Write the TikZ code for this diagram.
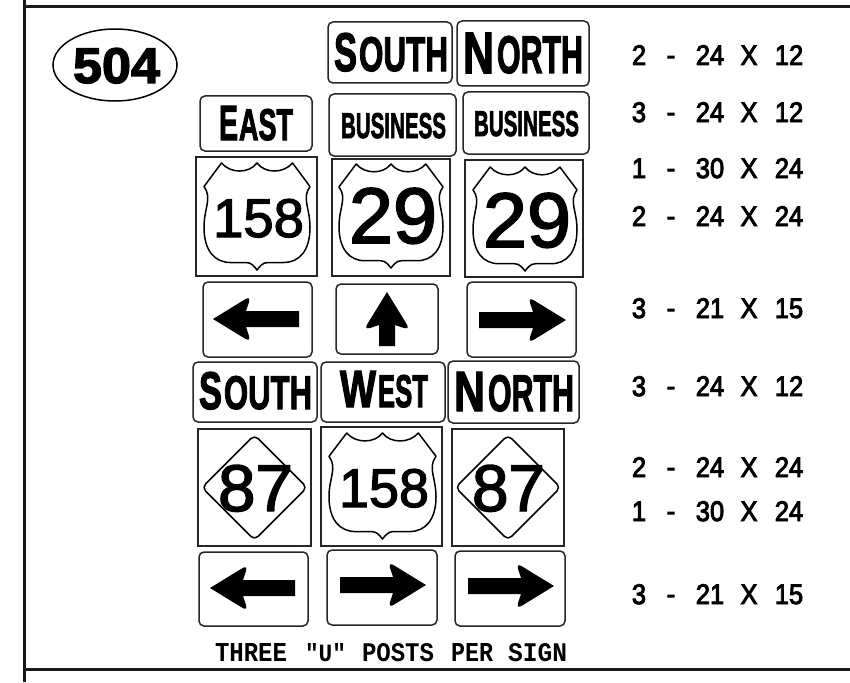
\documentclass[tikz,border=0pt]{standalone}
\usepackage{fontspec}
\usepackage{graphicx}
\usetikzlibrary{shapes.geometric,calc}
\setmainfont{Liberation Sans}
\newfontfamily\signfont{Liberation Sans}[UprightFont=* Bold,FakeBold=2.6]
\newfontfamily\specfont{Liberation Sans}[FakeBold=3.4]
\newfontfamily\routefont{Liberation Sans}[FakeBold=2.2]
\newfontfamily\monofont{Liberation Mono}[UprightFont=* Bold]
\tikzset{
  rule/.style={line width=3pt,black!90},
  signbox/.style={draw=black!85,line width=1.5pt,rounded corners=5pt,inner sep=0pt,outer sep=0pt,anchor=north west},
  plainbox/.style={draw=black!85,line width=1.9pt,inner sep=0pt,outer sep=0pt,anchor=north west},
  routeline/.style={draw=black,line width=1.5pt,line join=round},
  lbl/.style={inner sep=0pt,outer sep=0pt,anchor=base west},
  spec/.style={inner sep=0pt,outer sep=0pt,anchor=base},
}
% name, x0, y0, x1, y1
\newcommand\sgbox[5]{\pgfmathsetlengthmacro\bxw{(#4-#2)*1pt}\pgfmathsetlengthmacro\bxh{(#5-#3)*1pt}%
  \node[signbox,minimum width=\bxw,minimum height=\bxh] (#1) at (#2,#3) {};}
\newcommand\plbox[5]{\pgfmathsetlengthmacro\bxw{(#4-#2)*1pt}\pgfmathsetlengthmacro\bxh{(#5-#3)*1pt}%
  \node[plainbox,minimum width=\bxw,minimum height=\bxh] (#1) at (#2,#3) {};}
% name, x, baseline, w1, h1, first, gap, w2, h2, rest
\newcommand\wordtxt[9]{\def\zA{#1}\def\zB{#2}\def\zC{#3}\def\zD{#4}\def\zE{#5}\def\zF{#6}\def\zG{#7}\def\zH{#8}\def\zI{#9}\wordtxtc}
\newcommand\wordtxtc[1]{\node[lbl] (\zA) at (\zB,\zC) {\resizebox{\zD pt}{\zE pt}{\signfont\zF}\hspace{\zG pt}\resizebox{\zH pt}{\zI pt}{\signfont #1}};}
% name, x, baseline, w, h, text
\newcommand\fittxt[6]{\node[lbl] (#1) at (#2,#3) {\resizebox{#4pt}{#5pt}{#6}};}
% cx, top, halfwidth, height
\newcommand\shield[4]{\begin{scope}[shift={(#1,#2)},x={(#3pt,0pt)},y={(0pt,-#4pt)}]
  \draw[routeline] (-.67,0) .. controls (-.5,.1) and (-.15,.1) .. (0,0)
    .. controls (.15,.1) and (.5,.1) .. (.67,0) -- (1,.22)
    .. controls (.84,.33) and (1,.42) .. (1,.6)
    .. controls (1,.82) and (.8,.93) .. (.5,.93) -- (.2,.93)
    .. controls (.1,.93) and (.05,.97) .. (0,1)
    .. controls (-.05,.97) and (-.1,.93) .. (-.2,.93) -- (-.5,.93)
    .. controls (-.8,.93) and (-1,.82) .. (-1,.6)
    .. controls (-1,.42) and (-.84,.33) .. (-1,.22) -- cycle;
  \end{scope}}
% cx, cy, hw, hh
\newcommand\dmd[4]{\draw[routeline,rounded corners=5pt] ($(#1,#2)+(-#3,0)$) -- ($(#1,#2)+(0,-#4)$) -- ($(#1,#2)+(#3,0)$) -- ($(#1,#2)+(0,#4)$) -- cycle;}
% arrow shape: tip at origin, tail at x=#1, pointing to -x
\newcommand\arrowshape[1]{\fill[black] (0,0) -- (31,-19) .. controls (35.5,-22) and (37,-21) .. (36,-17) -- (33,-8) -- (#1,-8) -- (#1,8) -- (33,8) -- (36,17) .. controls (37,21) and (35.5,22) .. (31,19) -- cycle;}
\begin{document}
\begin{tikzpicture}[x=1pt,y=-1pt]
\useasboundingbox (0,0) rectangle (850,682);
% frame
\coordinate (tl) at (24,7); \coordinate (tr) at (850,7);
\coordinate (lt) at (24,0); \coordinate (lb) at (24,682);
\coordinate (bl) at (24,669); \coordinate (br) at (850,669);
\draw[rule] (tl) -- (tr);
\draw[rule] (lt) -- (lb);
\draw[rule] (bl) -- (br);
% oval
\node[draw=black,line width=1.5pt,ellipse,inner sep=0pt,minimum width=124pt,minimum height=72pt] (oval) at (115,65) {};
\node[lbl] (num) at (73,83) {\resizebox{87pt}{35pt}{\signfont 504}};
% word signs, upper
\sgbox{s1}{328}{22}{452}{83}
\sgbox{s2}{457}{21}{589}{86}
\sgbox{s3}{200}{96}{312}{151}
\sgbox{s4}{329}{94}{456}{156}
\sgbox{s5}{463}{92}{589}{154}
\wordtxt{t1}{334}{71}{23}{38}{S}{2}{89}{34}{OUTH}
\wordtxt{t2}{463}{73}{31}{40}{N}{3}{86}{37}{ORTH}
\wordtxt{t3}{219}{140}{19}{34}{E}{1}{54}{31}{AST}
\fittxt{t4}{341}{138}{105}{25}{\signfont BUSINESS}
\fittxt{t5}{474}{136}{105}{25}{\signfont BUSINESS}
% route boxes, upper
\plbox{r1}{196}{157}{317}{276}
\plbox{r2}{332}{159}{450}{276}
\plbox{r3}{465}{160}{583}{277}
\shield{257}{163}{53}{107}
\shield{391}{164}{52}{104}
\shield{525}{167}{52}{104}
\fittxt{n1}{213}{237}{91}{38}{\routefont 158}
\fittxt{n2}{349}{243}{88}{55}{\routefont 29}
\fittxt{n3}{483}{247}{88}{54}{\routefont 29}
% arrows, upper
\sgbox{a1}{203}{282}{312}{357}
\sgbox{a2}{336}{284}{438}{354}
\sgbox{a3}{467}{282}{576}{357}
\begin{scope}[shift={(213,319)}]\arrowshape{86}\end{scope}
\begin{scope}[shift={(387,292)},x={(0pt,-1pt)},y={(1pt,0pt)}]\arrowshape{54}\end{scope}
\begin{scope}[shift={(566,320)},xscale=-1]\arrowshape{87}\end{scope}
% word signs, lower
\sgbox{s6}{193}{362}{317}{422}
\sgbox{s7}{321}{362}{445}{422}
\sgbox{s8}{448}{361}{579}{423}
\wordtxt{t6}{199}{409}{23}{37}{S}{2}{88}{33}{OUTH}
\wordtxt{t7}{340}{407}{36}{36}{W}{2}{50}{32}{EST}
\wordtxt{t8}{454}{411}{31}{39}{N}{3}{86}{36}{ORTH}
% route boxes, lower
\plbox{r4}{198}{429}{311}{546}
\plbox{r5}{321}{427}{442}{546}
\plbox{r6}{452}{429}{564}{546}
\dmd{254.5}{487.5}{52.5}{52.5}
\dmd{508}{487.5}{52.5}{52.5}
\shield{382.5}{433}{53.5}{106}
\fittxt{n4}{218}{511}{75}{46}{\routefont 87}
\fittxt{n5}{339}{507}{90}{38}{\routefont 158}
\fittxt{n6}{472}{511}{73}{46}{\routefont 87}
% arrows, lower
\sgbox{a4}{199}{552}{308}{626}
\sgbox{a5}{327}{550}{437}{625}
\sgbox{a6}{455}{551}{565}{626}
\begin{scope}[shift={(210,588)}]\arrowshape{85}\end{scope}
\begin{scope}[shift={(426,585)},xscale=-1]\arrowshape{86}\end{scope}
\begin{scope}[shift={(554,586)},xscale=-1]\arrowshape{86}\end{scope}
% caption
\fittxt{c1}{215}{661}{72}{18}{\monofont THREE}
\fittxt{c2}{305}{661}{41}{18}{\monofont "U"}
\fittxt{c3}{362}{661}{72}{18}{\monofont POSTS}
\fittxt{c4}{451}{661}{42}{18}{\monofont PER}
\fittxt{c5}{508}{661}{59}{18}{\monofont SIGN}
% spec column
\foreach \nm/\yy/\q/\aa/\bb in {q1/65/2/24/12,q2/122/3/24/12,q3/178/1/30/24,q4/226/2/24/24,q5/318/3/21/15,q6/396/3/24/12,q7/477/2/24/24,q8/521/1/30/24,q9/604/3/21/15}{
  \node[spec] (\nm a) at (639,\yy) {\scalebox{.98}[1.09]{\specfont\fontsize{26}{30}\selectfont\q}};
  \node[spec] (\nm b) at (671,\yy-1) {\specfont\fontsize{26}{30}\selectfont -};
  \node[spec] (\nm c) at (710,\yy) {\scalebox{.98}[1.09]{\specfont\fontsize{26}{30}\selectfont\aa}};
  \node[spec] (\nm d) at (749,\yy) {\scalebox{.98}[1.09]{\specfont\fontsize{26}{30}\selectfont X}};
  \node[spec] (\nm e) at (789,\yy) {\scalebox{.98}[1.09]{\specfont\fontsize{26}{30}\selectfont\bb}};
}
\end{tikzpicture}
\end{document}
